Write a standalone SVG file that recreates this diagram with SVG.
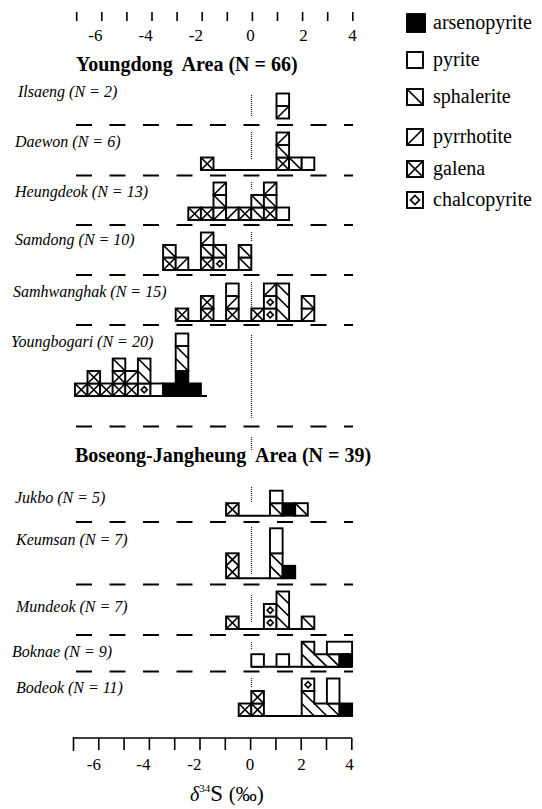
<svg xmlns="http://www.w3.org/2000/svg" width="542" height="809" viewBox="0 0 542 809">
<style>
.c{fill:#fff;stroke:#000;stroke-width:1.9}
.h{fill:none;stroke:#000;stroke-width:1.7}
.k{fill:#000;stroke:#000;stroke-width:1.9}
.base{stroke:#000;stroke-width:1.9;fill:none}
.dash{stroke:#000;stroke-width:1.9;stroke-dasharray:16 17.5;fill:none}
.zero{stroke:#222;stroke-width:1.2;stroke-dasharray:1 1;fill:none}
.ax{stroke:#000;stroke-width:1.6;fill:none}
.t{font-family:"Liberation Serif","Times New Roman",Times,serif;fill:#000}
.lab{font-family:"Liberation Serif","Times New Roman",Times,serif;font-style:italic;font-size:16px;fill:#000}
.ttl{font-family:"Liberation Serif","Times New Roman",Times,serif;font-weight:bold;font-size:20px;fill:#000}
.num{font-family:"Liberation Serif","Times New Roman",Times,serif;font-size:17px;fill:#000}
.leg{font-family:"Liberation Serif","Times New Roman",Times,serif;font-size:20px;fill:#000}
</style>
<defs>
<g id="py"><rect class="c" width="12.6" height="12.5"/></g>
<g id="sp"><rect class="c" width="12.6" height="12.5"/><path class="h" d="M0,0L12.6,12.5"/></g>
<g id="po"><rect class="c" width="12.6" height="12.5"/><path class="h" d="M0,12.5L12.6,0"/></g>
<g id="ga"><rect class="c" width="12.6" height="12.5"/><path class="h" d="M0,0L12.6,12.5M0,12.5L12.6,0"/></g>
<g id="cp"><rect class="c" width="12.6" height="12.5"/><path class="h" d="M6.3,3.2L9.3,6.25L6.3,9.3L3.3,6.25Z"/></g>
<g id="ar"><rect class="k" width="12.6" height="12.5"/></g>
</defs>

<g id="top-axis">
<path class="ax" d="M76.7,12V21M101.8,12V21M126.9,12V21M152,12V21M177.1,12V21M202.2,12V21M227.3,12V21M252.4,12V21M277.5,12V21M302.6,12V21M327.7,12V21M352.8,12V21"/>
<text class="num" x="102.5" y="41" text-anchor="end">-6</text>
<text class="num" x="152.7" y="41" text-anchor="end">-4</text>
<text class="num" x="202.9" y="41" text-anchor="end">-2</text>
<text class="num" x="250.5" y="41" text-anchor="middle">0</text>
<text class="num" x="303.5" y="41" text-anchor="middle">2</text>
<text class="num" x="352.5" y="41" text-anchor="middle">4</text>
</g>

<g id="legend">
<rect class="k" x="407" y="14" width="18" height="18"/>
<text class="leg" x="433" y="29">arsenopyrite</text>
<rect class="c" x="407" y="52" width="16" height="16"/>
<text class="leg" x="433" y="66">pyrite</text>
<g><rect class="c" x="407" y="89" width="16" height="16"/><path class="h" d="M407,89L423,105"/></g>
<text class="leg" x="433" y="103">sphalerite</text>
<g><rect class="c" x="407" y="129" width="16" height="16"/><path class="h" d="M407,145L423,129"/></g>
<text class="leg" x="433" y="143">pyrrhotite</text>
<g><rect class="c" x="407" y="161" width="16" height="16"/><path class="h" d="M407,161L423,177M407,177L423,161"/></g>
<text class="leg" x="433" y="175">galena</text>
<g><rect class="c" x="407" y="192" width="16" height="16"/><path class="h" d="M415,195.5L419.5,200L415,204.5L410.5,200Z"/></g>
<text class="leg" x="433" y="206">chalcopyrite</text>
</g>

<g id="titles">
<text class="ttl" x="76" y="71" xml:space="preserve">Youngdong  Area (N = 66)</text>
<text class="ttl" x="75" y="462" xml:space="preserve">Boseong-Jangheung  Area (N = 39)</text>
</g>

<g id="connectors">
<path class="dash" d="M76,125H353M76,175.5H353M76,225H353M76,275H353M76,325H353M76,426.5H353M76,522H353M76,584.5H353M76,635H353M76,671.5H353"/>
<path class="zero" d="M251.5,95V117M251.5,132V160M251.5,182V190M251.5,232V241M251.5,282V307M251.5,335V418M251.5,437V450M251.5,487V502M251.5,527V575M251.5,595V622M251.5,642V649M251.5,678V688"/>
<path class="base" d="M213.5,170H276.5M188.3,270H200.9M226.1,270H238.7M188.3,321H301.7M74.9,396H207M238.7,515.7H270M238.7,578.3H270M238.7,629H263.9M289.1,629H301.7M251.3,666.7H352.1M263.9,716H301.7"/>
</g>

<g id="ilsaeng">
<text class="lab" x="18" y="97">Ilsaeng (N = 2)</text>
<use href="#po" x="276.5" y="106"/>
<use href="#py" x="276.5" y="93.5"/>
</g>

<g id="daewon">
<text class="lab" x="15" y="147">Daewon (N = 6)</text>
<use href="#ga" x="200.9" y="157.5"/>
<use href="#ga" x="276.5" y="157.5"/>
<use href="#sp" x="276.5" y="145"/>
<use href="#po" x="276.5" y="132.5"/>
<use href="#sp" x="289.1" y="157.5"/>
<use href="#py" x="301.7" y="157.5"/>
</g>

<g id="heungdeok">
<text class="lab" x="15" y="197">Heungdeok (N = 13)</text>
<use href="#ga" x="188.3" y="207.5"/>
<use href="#ga" x="200.9" y="207.5"/>
<use href="#po" x="213.5" y="207.5"/>
<use href="#po" x="226.1" y="207.5"/>
<use href="#ga" x="238.7" y="207.5"/>
<use href="#sp" x="251.3" y="207.5"/>
<use href="#ga" x="263.9" y="207.5"/>
<use href="#py" x="276.5" y="207.5"/>
<use href="#sp" x="213.5" y="195"/>
<use href="#po" x="213.5" y="182.5"/>
<use href="#sp" x="251.3" y="195"/>
<use href="#sp" x="263.9" y="195"/>
<use href="#po" x="263.9" y="182.5"/>
</g>

<g id="samdong">
<text class="lab" x="15" y="245">Samdong (N = 10)</text>
<use href="#ga" x="163.1" y="257.5"/>
<use href="#sp" x="163.1" y="245"/>
<use href="#po" x="175.7" y="257.5"/>
<use href="#ga" x="200.9" y="257.5"/>
<use href="#sp" x="200.9" y="245"/>
<use href="#po" x="200.9" y="232.5"/>
<use href="#cp" x="213.5" y="257.5"/>
<use href="#sp" x="213.5" y="245"/>
<use href="#sp" x="238.7" y="257.5"/>
<use href="#sp" x="238.7" y="245"/>
</g>

<g id="samhwanghak">
<text class="lab" x="13" y="297">Samhwanghak (N = 15)</text>
<use href="#ga" x="175.7" y="308.5"/>
<use href="#ga" x="200.9" y="308.5"/>
<use href="#ga" x="200.9" y="296"/>
<use href="#ga" x="226.1" y="308.5"/>
<use href="#po" x="226.1" y="296"/>
<use href="#py" x="226.1" y="283.5"/>
<use href="#ga" x="251.3" y="308.5"/>
<use href="#cp" x="263.9" y="308.5"/>
<use href="#cp" x="263.9" y="296"/>
<use href="#po" x="263.9" y="283.5"/>
<rect class="c" x="276.5" y="283.5" width="12.6" height="37.5"/>
<path class="h" d="M276.5,283.5L289.1,296M276.5,296L289.1,308.5M276.5,308.5L289.1,321"/>
<use href="#po" x="301.7" y="308.5"/>
<use href="#sp" x="301.7" y="296"/>
</g>

<g id="youngbogari">
<text class="lab" x="11" y="347">Youngbogari (N = 20)</text>
<use href="#ga" x="74.9" y="383.5"/>
<use href="#ga" x="87.5" y="383.5"/>
<use href="#ga" x="100.1" y="383.5"/>
<use href="#ga" x="112.7" y="383.5"/>
<use href="#ga" x="125.3" y="383.5"/>
<use href="#cp" x="137.9" y="383.5"/>
<use href="#py" x="150.5" y="383.5"/>
<use href="#ga" x="87.5" y="371"/>
<use href="#ga" x="112.7" y="371"/>
<use href="#po" x="125.3" y="371"/>
<use href="#sp" x="112.7" y="358.5"/>
<rect class="c" x="137.9" y="358.5" width="12.6" height="25"/>
<path class="h" d="M137.9,358.5L150.5,371M137.9,371L150.5,383.5"/>
<path class="k" d="M163.1,383.5H175.7V371H188.3V383.5H200.9V396H163.1Z"/>
<rect class="c" x="175.7" y="346" width="12.6" height="25"/>
<path class="h" d="M175.7,346L188.3,358.5M175.7,358.5L188.3,371"/>
<use href="#py" x="175.7" y="333.5"/>
</g>

<g id="jukbo">
<text class="lab" x="15" y="503">Jukbo (N = 5)</text>
<use href="#ga" x="226.1" y="503.2"/>
<use href="#sp" x="270" y="503.2"/>
<use href="#py" x="270" y="490.7"/>
<use href="#ar" x="282.6" y="503.2"/>
<use href="#sp" x="295.2" y="503.2"/>
</g>

<g id="keumsan">
<text class="lab" x="16" y="545">Keumsan (N = 7)</text>
<rect class="c" x="226.1" y="553.3" width="12.6" height="25"/>
<path class="h" d="M226.1,553.3L238.7,565.8L226.1,578.3M238.7,553.3L226.1,565.8L238.7,578.3"/>
<rect class="c" x="270" y="553.3" width="12.6" height="25"/>
<path class="h" d="M270,553.3L282.6,565.8M270,565.8L282.6,578.3"/>
<rect class="c" x="270" y="528.3" width="12.6" height="25"/>
<use href="#ar" x="282.6" y="565.8"/>
</g>

<g id="mundeok">
<text class="lab" x="16" y="612">Mundeok (N = 7)</text>
<use href="#ga" x="226.1" y="616.5"/>
<use href="#cp" x="263.9" y="616.5"/>
<use href="#cp" x="263.9" y="604"/>
<rect class="c" x="276.5" y="591.5" width="12.6" height="37.5"/>
<path class="h" d="M276.5,591.5L289.1,604M276.5,604L289.1,616.5M276.5,616.5L289.1,629"/>
<use href="#sp" x="301.7" y="616.5"/>
</g>

<g id="boknae">
<text class="lab" x="12" y="657">Boknae (N = 9)</text>
<use href="#py" x="251.3" y="654.2"/>
<use href="#py" x="276.5" y="654.2"/>
<path class="c" d="M301.7,641.7H314.3V654.2H339.5V666.7H301.7Z"/>
<path class="h" d="M301.7,641.7L326.9,666.7M301.7,654.2L314.3,666.7M326.9,654.2L339.5,666.7"/>
<rect class="c" x="326.9" y="641.7" width="25.2" height="12.5"/>
<use href="#ar" x="339.5" y="654.2"/>
</g>

<g id="bodeok">
<text class="lab" x="16" y="693">Bodeok (N = 11)</text>
<use href="#ga" x="238.7" y="703.5"/>
<use href="#ga" x="251.3" y="703.5"/>
<use href="#ga" x="251.3" y="691"/>
<path class="c" d="M301.7,691H314.3V703.5H339.5V716H301.7Z"/>
<path class="h" d="M301.7,691L326.9,716M301.7,703.5L314.3,716M326.9,703.5L339.5,716"/>
<use href="#cp" x="301.7" y="678.5"/>
<rect class="c" x="326.9" y="678.5" width="12.6" height="25"/>
<use href="#ar" x="339.5" y="703.5"/>
</g>

<g id="bottom-axis">
<path class="ax" d="M73.5,738H352M73.5,737V751M98.8,738V750M124.1,738V750M149.4,738V750M174.7,738V750M200,738V750M225.3,738V750M250.6,738V750M275.9,738V750M301.2,738V750M326.5,738V750M351.8,738V750"/>
<text class="num" x="101" y="770" text-anchor="end">-6</text>
<text class="num" x="150.5" y="770" text-anchor="end">-4</text>
<text class="num" x="201.5" y="770" text-anchor="end">-2</text>
<text class="num" x="250" y="770" text-anchor="middle">0</text>
<text class="num" x="301.5" y="770" text-anchor="middle">2</text>
<text class="num" x="349.5" y="770" text-anchor="middle">4</text>
<text class="t" x="190" y="801"><tspan font-size="20" font-style="italic">δ</tspan><tspan font-size="11" dy="-9">34</tspan><tspan font-size="23" dy="9">S </tspan><tspan font-size="21">(‰)</tspan></text>
</g>
</svg>
